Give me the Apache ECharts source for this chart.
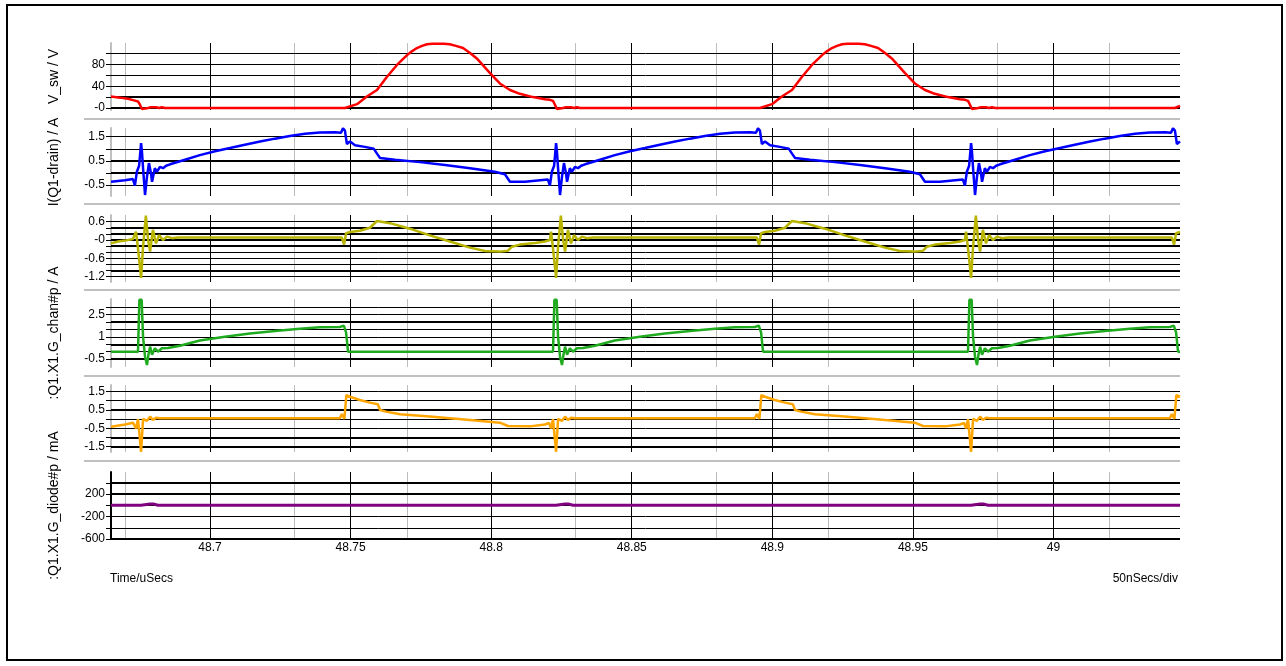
<!DOCTYPE html>
<html>
<head>
<meta charset="utf-8">
<title>Switching waveforms</title>
<script src="https://cdn.jsdelivr.net/npm/echarts@6/dist/echarts.min.js"></script>
<style>
  html, body { margin: 0; padding: 0; background: #ffffff; }
  #chart { width: 1286px; height: 666px; }
</style>
</head>
<body>
<div id="chart"></div>
<script>
// ---- time axis (uSecs) ----
const tMin = 48.6648;
const tMax = 49.0450;
const majorTimes = [48.7, 48.75, 48.8, 48.85, 48.9, 48.95, 49];
const timeLabels = ['48.7', '48.75', '48.8', '48.85', '48.9', '48.95', '49'];
const minorTimes = [48.675, 48.725, 48.775, 48.825, 48.875, 48.925, 48.975, 49.025];

// ---- V_sw / V ----
const vSw = [
  [48.6648,21],[48.6680,19],[48.6708,17],[48.6730,14],[48.6744,12],[48.6751,6],[48.6758,-2],[48.6762,-3],
  [48.6769,-1],[48.6780,0],[48.6790,1.5],[48.6797,0],[48.6808,1.5],[48.6819,0],[48.6829,1.5],[48.6840,0],
  [48.7480,0],[48.7523,7],[48.7558,21],[48.7594,33],[48.7629,57],[48.7665,79],[48.7701,97],[48.7718,104],
  [48.7736,110],[48.7754,114],[48.7772,117],[48.7790,118],[48.7811,118],[48.7832,118],[48.7853,117],[48.7875,114],
  [48.7900,110],[48.7925,101],[48.7949,91],[48.7996,64],[48.8031,45],[48.8067,33],
  [48.8102,26],[48.8149,20],[48.8191,16],[48.8209,15],[48.8220,13],[48.8227,6],[48.8234,-2],[48.8238,-3],
  [48.8245,-1],[48.8256,0],[48.8266,1.5],[48.8273,0],[48.8284,1.5],[48.8295,0],[48.8305,1.5],[48.8316,0],
  [48.8956,0],[48.8999,7],[48.9034,21],[48.9070,33],[48.9105,57],[48.9141,79],[48.9177,97],[48.9194,104],
  [48.9212,110],[48.9230,114],[48.9248,117],[48.9266,118],[48.9287,118],[48.9308,118],[48.9329,117],[48.9351,114],
  [48.9376,110],[48.9401,101],[48.9425,91],[48.9472,64],[48.9507,45],[48.9543,33],
  [48.9578,26],[48.9625,20],[48.9667,16],[48.9685,15],[48.9696,13],[48.9703,6],[48.9710,-2],[48.9714,-3],
  [48.9721,-1],[48.9732,0],[48.9742,1.5],[48.9749,0],[48.9760,1.5],[48.9771,0],[48.9781,1.5],[48.9792,0],
  [49.0432,0],[49.0450,4]
];
const vSwLines = [100, 80, 60, 40, 20, 0];
const vSwHeavy = [20, 0];
const vSwTicks = [80, 40, 0];
const vSwLabels = ['80', '40', '-0'];

// ---- I(Q1-drain) / A ----
const iDrain = [
  [48.6648,-0.36],[48.6698,-0.3],[48.6726,-0.25],[48.6733,-0.52],[48.6740,0.05],[48.6748,0.3],[48.6755,1.24],
  [48.6758,0.9],[48.6762,0.2],[48.6769,-0.91],[48.6776,-0.15],[48.6783,0.41],[48.6790,0.0],[48.6794,-0.36],
  [48.6804,0.2],[48.6811,0.05],[48.6822,0.25],[48.6833,0.2],[48.6844,0.3],[48.6858,0.36],[48.6911,0.55],
  [48.6964,0.74],[48.7018,0.9],[48.7071,1.03],[48.7124,1.17],[48.7178,1.3],[48.7231,1.42],[48.7284,1.53],
  [48.7338,1.62],[48.7391,1.67],[48.7445,1.68],[48.7466,1.66],[48.7473,1.85],[48.7480,1.75],[48.7487,1.2],
  [48.7498,1.3],[48.7516,1.15],[48.7551,1.08],[48.7583,1.0],[48.7594,0.8],[48.7605,0.62],[48.7658,0.55],
  [48.7747,0.45],[48.7836,0.33],[48.7925,0.2],[48.8013,0.05],[48.8049,-0.05],[48.8067,-0.36],[48.8120,-0.36],
  [48.8174,-0.3],[48.8202,-0.27],[48.8209,-0.52],[48.8216,0.05],[48.8224,0.3],[48.8231,1.24],[48.8234,0.9],
  [48.8238,0.2],[48.8245,-0.91],[48.8252,-0.15],[48.8259,0.41],[48.8266,0.0],[48.8270,-0.36],[48.8280,0.2],
  [48.8287,0.05],[48.8298,0.25],[48.8309,0.2],[48.8320,0.3],[48.8334,0.36],[48.8387,0.55],[48.8440,0.74],
  [48.8494,0.9],[48.8547,1.03],[48.8600,1.17],[48.8654,1.3],[48.8707,1.42],[48.8760,1.53],[48.8814,1.62],
  [48.8867,1.67],[48.8921,1.68],[48.8942,1.66],[48.8949,1.85],[48.8956,1.75],[48.8963,1.2],[48.8974,1.3],
  [48.8992,1.15],[48.9027,1.08],[48.9059,1.0],[48.9070,0.8],[48.9081,0.62],[48.9134,0.55],[48.9223,0.45],
  [48.9312,0.33],[48.9401,0.2],[48.9489,0.05],[48.9525,-0.05],[48.9543,-0.36],[48.9596,-0.36],[48.9650,-0.3],
  [48.9678,-0.27],[48.9685,-0.52],[48.9692,0.05],[48.9700,0.3],[48.9707,1.24],[48.9710,0.9],[48.9714,0.2],
  [48.9721,-0.91],[48.9728,-0.15],[48.9735,0.41],[48.9742,0.0],[48.9746,-0.36],[48.9756,0.2],[48.9763,0.05],
  [48.9774,0.25],[48.9785,0.2],[48.9796,0.3],[48.9810,0.36],[48.9863,0.55],[48.9916,0.74],[48.9970,0.9],
  [49.0023,1.03],[49.0076,1.17],[49.0130,1.3],[49.0183,1.42],[49.0236,1.53],[49.0290,1.62],[49.0343,1.67],
  [49.0397,1.68],[49.0418,1.66],[49.0425,1.85],[49.0432,1.75],[49.0439,1.2],[49.0450,1.3]
];
const iDrainLines = [1.5, 1.0, 0.5, 0, -0.5];
const iDrainHeavy = [0.5, 0];
const iDrainTicks = [1.5, 0.5, -0.5];
const iDrainLabels = ['1.5', '0.5', '-0.5'];

// ---- gate current / A ----
const iGate = [
  [48.6648,-0.11],[48.6673,-0.05],[48.6698,-0.02],[48.6726,0.03],[48.6737,0.27],[48.6744,-0.27],[48.6755,-1.24],
  [48.6762,-0.22],[48.6772,0.8],[48.6780,0.0],[48.6787,-0.38],[48.6797,0.33],[48.6808,-0.11],[48.6819,0.16],
  [48.6833,0.0],[48.6847,0.11],[48.6865,0.06],[48.6886,0.08],[48.7469,0.08],[48.7477,-0.15],[48.7484,0.22],
  [48.7498,0.26],[48.7533,0.3],[48.7569,0.4],[48.7594,0.62],[48.7640,0.55],[48.7711,0.37],[48.7782,0.15],
  [48.7853,-0.05],[48.7925,-0.25],[48.7978,-0.36],[48.8031,-0.38],[48.8060,-0.35],[48.8074,-0.22],[48.8102,-0.15],
  [48.8156,-0.1],[48.8191,-0.05],[48.8209,0.0],[48.8213,0.27],[48.8220,-0.27],[48.8231,-1.24],[48.8238,-0.22],
  [48.8248,0.8],[48.8256,0.0],[48.8263,-0.38],[48.8273,0.33],[48.8284,-0.11],[48.8295,0.16],[48.8309,0.0],
  [48.8323,0.11],[48.8341,0.06],[48.8362,0.08],[48.8945,0.08],[48.8953,-0.15],[48.8960,0.22],[48.8974,0.26],
  [48.9009,0.3],[48.9045,0.4],[48.9070,0.62],[48.9116,0.55],[48.9187,0.37],[48.9258,0.15],[48.9329,-0.05],
  [48.9401,-0.25],[48.9454,-0.36],[48.9507,-0.38],[48.9536,-0.35],[48.9550,-0.22],[48.9578,-0.15],[48.9632,-0.1],
  [48.9667,-0.05],[48.9685,0.0],[48.9689,0.27],[48.9696,-0.27],[48.9707,-1.24],[48.9714,-0.22],[48.9724,0.8],
  [48.9732,0.0],[48.9739,-0.38],[48.9749,0.33],[48.9760,-0.11],[48.9771,0.16],[48.9785,0.0],[48.9799,0.11],
  [48.9817,0.06],[48.9838,0.08],[49.0421,0.08],[49.0429,-0.15],[49.0436,0.22],[49.0450,0.26]
];
const iGateLines = [0.6, 0.4, 0.2, 0, -0.2, -0.4, -0.6, -0.8, -1.0, -1.2];
const iGateHeavy = [0.4, 0.2, 0, -0.2, -1.0];
const iGateTicks = [0.6, 0, -0.6, -1.2];
const iGateLabels = ['0.6', '-0', '-0.6', '-1.2'];

// ---- :Q1.X1.G_chan#p / A ----
const gChan = [
  [48.6648,0],[48.6744,0],[48.6749,3.5],[48.6757,3.5],[48.6762,1.0],[48.6769,-0.34],[48.6776,-0.9],[48.6781,-0.22],
  [48.6787,0.34],[48.6794,-0.2],[48.6804,0.23],[48.6815,0.0],[48.6829,0.23],[48.6851,0.25],[48.6893,0.4],
  [48.6964,0.75],[48.7053,1.0],[48.7142,1.22],[48.7231,1.4],[48.7320,1.55],[48.7391,1.64],[48.7462,1.66],
  [48.7476,1.75],[48.7484,1.3],[48.7491,0.0],[48.8220,0],[48.8225,3.5],[48.8233,3.5],[48.8238,1.0],[48.8245,-0.34],
  [48.8252,-0.9],[48.8257,-0.22],[48.8263,0.34],[48.8270,-0.2],[48.8280,0.23],[48.8291,0.0],[48.8305,0.23],
  [48.8327,0.25],[48.8369,0.4],[48.8440,0.75],[48.8529,1.0],[48.8618,1.22],[48.8707,1.4],[48.8796,1.55],
  [48.8867,1.64],[48.8938,1.66],[48.8952,1.75],[48.8960,1.3],[48.8967,0.0],[48.9696,0],[48.9701,3.5],[48.9709,3.5],
  [48.9714,1.0],[48.9721,-0.34],[48.9728,-0.9],[48.9733,-0.22],[48.9739,0.34],[48.9746,-0.2],[48.9756,0.23],
  [48.9767,0.0],[48.9781,0.23],[48.9803,0.25],[48.9845,0.4],[48.9916,0.75],[49.0005,1.0],[49.0094,1.22],
  [49.0183,1.4],[49.0272,1.55],[49.0343,1.64],[49.0414,1.66],[49.0428,1.75],[49.0436,1.3],[49.0443,0.0],[49.0450,0]
];
const gChanLines = [3, 2.5, 2, 1.5, 1, 0.5, 0, -0.5];
const gChanHeavy = [2, 0.5, -0.5];
const gChanTicks = [2.5, 1, -0.5];
const gChanLabels = ['2.5', '1', '-0.5'];

// ---- diode current / mA ----
const gDiodeMa = [
  [48.6648,-0.42],[48.6698,-0.3],[48.6726,-0.2],[48.6737,-0.51],[48.6744,0.0],[48.6751,0.05],[48.6755,-1.78],
  [48.6758,-1.78],[48.6762,0.0],[48.6767,0.04],[48.6776,-0.1],[48.6787,0.13],[48.6797,-0.05],[48.6808,0.07],
  [48.6822,0.04],[48.7462,0.04],[48.7469,0.27],[48.7478,0.0],[48.7485,1.3],[48.7498,1.21],[48.7533,1.03],
  [48.7569,0.89],[48.7597,0.8],[48.7605,0.49],[48.7626,0.4],[48.7676,0.26],[48.7782,0.13],[48.7925,-0.05],
  [48.8031,-0.2],[48.8060,-0.38],[48.8138,-0.4],[48.8191,-0.3],[48.8206,-0.22],[48.8213,-0.51],[48.8220,0.0],
  [48.8227,0.05],[48.8231,-1.78],[48.8234,-1.78],[48.8238,0.0],[48.8243,0.04],[48.8252,-0.1],[48.8263,0.13],
  [48.8273,-0.05],[48.8284,0.07],[48.8298,0.04],[48.8938,0.04],[48.8945,0.27],[48.8954,0.0],[48.8961,1.3],
  [48.8974,1.21],[48.9009,1.03],[48.9045,0.89],[48.9073,0.8],[48.9081,0.49],[48.9102,0.4],[48.9152,0.26],
  [48.9258,0.13],[48.9401,-0.05],[48.9507,-0.2],[48.9536,-0.38],[48.9614,-0.4],[48.9667,-0.3],[48.9682,-0.22],
  [48.9689,-0.51],[48.9696,0.0],[48.9703,0.05],[48.9707,-1.78],[48.9710,-1.78],[48.9714,0.0],[48.9719,0.04],
  [48.9728,-0.1],[48.9739,0.13],[48.9749,-0.05],[48.9760,0.07],[48.9774,0.04],[49.0414,0.04],[49.0421,0.27],
  [49.0430,0.0],[49.0437,1.3],[49.0450,1.21]
];
const gDiodeMaLines = [1.5, 1.0, 0.5, 0, -0.5, -1.0, -1.5];
const gDiodeMaHeavy = [0.5, -1.0, -1.5];
const gDiodeMaTicks = [1.5, 0.5, -0.5, -1.5];
const gDiodeMaLabels = ['1.5', '0.5', '-0.5', '-1.5'];

// ---- :Q1.X1.G_diode#p ----
const gDiode = [
  [48.6648,0],[48.6755,0],[48.6762,22],[48.6787,22],[48.6794,0],[48.6801,22],[48.6808,22],[48.6815,0],
  [48.8231,0],[48.8238,22],[48.8263,22],[48.8270,0],[48.8277,22],[48.8284,22],[48.8291,0],
  [48.9707,0],[48.9714,22],[48.9739,22],[48.9746,0],[48.9753,22],[48.9760,22],[48.9767,0],[49.0450,0]
];
const gDiodeLines = [400, 200, 0, -200, -400, -600];
const gDiodeHeavy = [400, 200, -600];
const gDiodeTicks = [200, -200, -600];
const gDiodeLabels = ['200', '-200', '-600'];

const FONT = 'Liberation Sans, Arial, sans-serif';

const panels = [
  { title: 'V_sw / V', data: vSw, color: '#ff0000', lines: vSwLines, heavy: vSwHeavy, ticks: vSwTicks, labels: vSwLabels,
    min: -3.7, max: 119.3, top: 43, height: 67, axisColor: '#c0c0c0' },
  { title: 'I(Q1-drain) / A', data: iDrain, color: '#0000ff', lines: iDrainLines, heavy: iDrainHeavy, ticks: iDrainTicks, labels: iDrainLabels,
    min: -0.95, max: 1.86, top: 128, height: 68, axisColor: '#c0c0c0' },
  { title: '', data: iGate, color: '#b8b400', lines: iGateLines, heavy: iGateHeavy, ticks: iGateTicks, labels: iGateLabels,
    min: -1.373, max: 0.817, top: 215, height: 67, axisColor: '#c0c0c0' },
  { title: ':Q1.X1.G_chan#p / A', data: gChan, color: '#1faa1f', lines: gChanLines, heavy: gChanHeavy, ticks: gChanTicks, labels: gChanLabels,
    min: -1.03, max: 3.546, top: 299, height: 68, axisColor: '#c0c0c0' },
  { title: '', data: gDiodeMa, color: '#ffa500', lines: gDiodeMaLines, heavy: gDiodeMaHeavy, ticks: gDiodeMaTicks, labels: gDiodeMaLabels,
    min: -1.793, max: 1.848, top: 385, height: 67, axisColor: '#c0c0c0' },
  { title: ':Q1.X1.G_diode#p / mA', data: gDiode, color: '#800080', lines: gDiodeLines, heavy: gDiodeHeavy, ticks: gDiodeTicks, labels: gDiodeLabels,
    min: -600, max: 593, top: 472, height: 67, axisColor: '#000000' }
];

const grids = [], xAxes = [], yAxes = [], series = [];

panels.forEach((p, i) => {
  const last = i === panels.length - 1;
  grids.push({ left: 111, right: 106, top: p.top, height: p.height, outerBoundsMode: 'none' });

  xAxes.push({
    type: 'value', gridIndex: i, min: tMin, max: tMax, show: last,
    axisLine: { show: false }, axisTick: { show: false }, splitLine: { show: false },
    axisLabel: {
      show: last, customValues: majorTimes, margin: 3, color: '#000', fontSize: 12, fontFamily: FONT,
      formatter: v => timeLabels[majorTimes.findIndex(t => Math.abs(t - v) < 1e-9)]
    }
  });

  yAxes.push({
    type: 'value', gridIndex: i, min: p.min, max: p.max,
    name: p.title, nameLocation: 'middle', nameGap: 50,
    nameTextStyle: { color: '#000', fontSize: 14, fontFamily: FONT },
    axisLine: { show: true, lineStyle: { color: p.axisColor, width: 2 } },
    axisTick: { show: true, customValues: p.lines, length: 5, lineStyle: { color: '#000', width: 1 } },
    splitLine: { show: false },
    axisLabel: {
      customValues: p.ticks, margin: 6, color: '#000', fontSize: 12, fontFamily: FONT,
      formatter: v => p.labels[p.ticks.findIndex(t => Math.abs(t - v) < 1e-9)]
    }
  });

  // grid lines for the panel
  const gridLines = []
    .concat(minorTimes.map(t => ({ xAxis: t, lineStyle: { color: '#bdbdbd', width: 1, type: 'solid' } })))
    .concat(majorTimes.map(t => ({ xAxis: t, lineStyle: { color: '#000', width: 1, type: 'solid' } })))
    .concat(p.lines.map(v => ({ yAxis: v, lineStyle: { color: '#000', width: p.heavy.includes(v) ? 2 : 1, type: 'solid' } })));

  series.push({
    type: 'line', xAxisIndex: i, yAxisIndex: i, data: [], z: 1, silent: true,
    markLine: {
      silent: true, animation: false, symbol: ['none', 'none'],
      label: { show: false }, emphasis: { disabled: true },
      data: gridLines
    }
  });

  series.push({
    type: 'line', xAxisIndex: i, yAxisIndex: i, data: p.data, z: 5,
    showSymbol: false, symbol: 'none', clip: true, animation: false,
    lineStyle: { color: p.color, width: i === 5 ? 3 : 2.5 },
    emphasis: { disabled: true }
  });
});

const separatorYs = [119, 204, 290, 376, 461];
const graphic = [
  { type: 'rect', silent: true, z: -10, shape: { x: 7, y: 5, width: 1275, height: 655 },
    style: { fill: 'none', stroke: '#000', lineWidth: 2 } },
  ...separatorYs.map(y => ({ type: 'line', silent: true, shape: { x1: 84, y1: y, x2: 1180, y2: y },
    style: { stroke: '#c0c0c0', lineWidth: 2 } })),
  { type: 'text', silent: true, x: 110, y: 579,
    style: { text: 'Time/uSecs', font: '12px ' + FONT, fill: '#000', align: 'left', verticalAlign: 'middle' } },
  { type: 'text', silent: true, x: 1178, y: 579,
    style: { text: '50nSecs/div', font: '12px ' + FONT, fill: '#000', align: 'right', verticalAlign: 'middle' } }
];

const chart = echarts.init(document.getElementById('chart'), null, { renderer: 'canvas' });
chart.setOption({
  backgroundColor: '#ffffff',
  animation: false,
  textStyle: { fontFamily: FONT },
  grid: grids,
  xAxis: xAxes,
  yAxis: yAxes,
  series: series,
  graphic: graphic
});
</script>
</body>
</html>
